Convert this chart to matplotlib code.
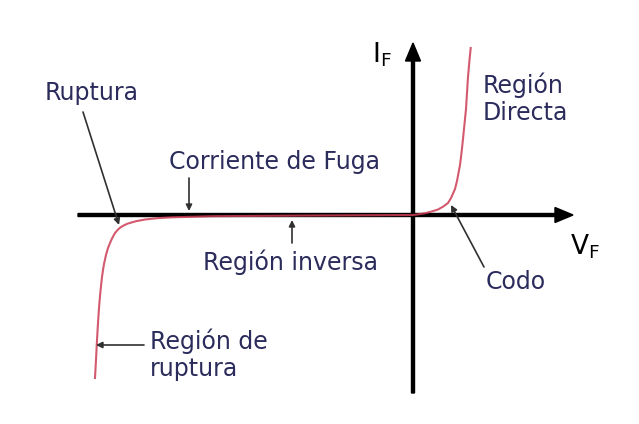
import matplotlib.pyplot as plt

# diode I-V curve (origin at the axes crossing)
v_curve = [-318, -317, -316, -315, -314, -313, -312, -311, -310, -309, -307,
           -305, -303, -301, -298, -295, -292, -288, -285, -277, -268, -255,
           -241, -200, -100, 0,
           5, 12, 18, 25, 30, 35, 38, 42, 44, 47, 48.5, 50, 51.5, 53, 54,
           55, 56.5, 57.7]
i_curve = [-163, -145, -125, -108, -93, -81, -71, -62, -55, -49, -40,
           -33, -28, -23.5, -18, -14.5, -12, -9.8, -8.5, -6.2, -4.5, -3.1,
           -2.3, -1.2, -0.5, 0,
           0.6, 1.8, 3.3, 5.5, 8.3, 12, 17, 26, 34, 50, 62, 76, 91, 106, 122,
           138, 155, 167]

# labels: text, x, y
labels = [
    ("Ruptura", -368, 122),
    ("Corriente de Fuga", -244, 53),
    ("Región inversa", -210, -47),
    ("Codo", 73, -67),
    ("Región\nDirecta", 70, 116),
    ("Región de\nruptura", -263, -140),
]

# pointer arrows: (from x, from y, to x, to y)
pointers = [
    (-330, 103, -294, -10),
    (-224, 37, -224, 4),
    (-121, -28, -121, -5),
    (71, -52, 38, 10),
    (-269, -130, -317, -130),
]

text_color = "#2b2b5c"

fig = plt.figure(figsize=(6.39, 4.24), dpi=100)
ax = fig.add_axes([0, 0, 1, 1])
ax.set_xlim(-413, 226)
ax.set_ylim(-209, 215)
ax.axis("off")

# axes with arrow heads
ax.arrow(-335, 0, 495, 0, width=3, head_width=15, head_length=18,
         length_includes_head=True, color="black", zorder=2)
ax.arrow(0, -178, 0, 350, width=3, head_width=15, head_length=18,
         length_includes_head=True, color="black", zorder=2)

ax.plot(v_curve, i_curve, color="#cc3d55", lw=1.5, alpha=0.85, zorder=3,
        solid_joinstyle="round")

for txt, x, y in labels:
    ax.text(x, y, txt, fontsize=17, color=text_color, ha="left", va="center",
            linespacing=1.15)

for x0, y0, x1, y1 in pointers:
    ax.annotate("", xy=(x1, y1), xytext=(x0, y0),
                arrowprops=dict(arrowstyle="-|>", color="#303030", lw=1.2,
                                mutation_scale=9, shrinkA=0, shrinkB=0))

ax.text(-41, 160, r"$\mathregular{I_F}$", fontsize=19, color="black",
        ha="left", va="center")
ax.text(157, -32, r"$\mathregular{V_F}$", fontsize=19, color="black",
        ha="left", va="center")

fig.savefig("out.png", dpi=100)
